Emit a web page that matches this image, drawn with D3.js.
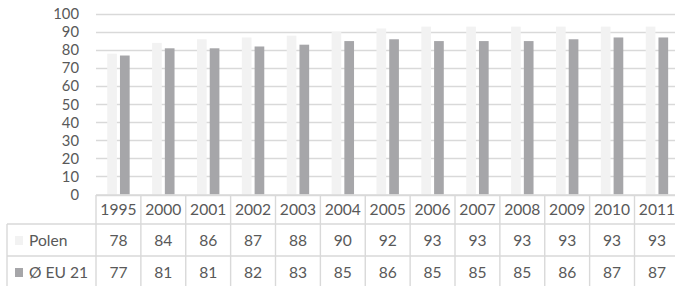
<!DOCTYPE html>
<html>
<head>
<meta charset="utf-8">
<script src="https://cdn.jsdelivr.net/npm/d3@7"></script>
<style>
  html, body { margin: 0; padding: 0; background: #fff; }
  svg { display: block; font-family: Lato, "Open Sans", sans-serif; }
</style>
</head>
<body>
<div id="chart"></div>
<script>
// Daten
const years = ["1995", "2000", "2001", "2002", "2003", "2004", "2005", "2006", "2007", "2008", "2009", "2010", "2011"];
const polen = [78, 84, 86, 87, 88, 90, 92, 93, 93, 93, 93, 93, 93];
const eu21 = [77, 81, 81, 82, 83, 85, 86, 85, 85, 85, 86, 87, 87];
const seriesNames = ["Polen", "Ø EU 21"];
const yTicks = [0, 10, 20, 30, 40, 50, 60, 70, 80, 90, 100];

const width = 675;
const height = 286;
const colors = ["#f2f2f2", "#a6a6a9"];
const gridColor = "#d9d9d9";
const textColor = "#595959";
const fontSize = "15.6px";

const left = 96;
const step = 44.875;
const right = left + step * years.length;
const rowTop = 195;
const rowLines = [195, 224, 256, 288];

const svg = d3.select("#chart")
  .append("svg")
  .attr("width", width)
  .attr("height", height);

const x = d3.scaleBand()
  .domain(years)
  .range([left, right])
  .padding(0);

const groupW = x.bandwidth() * 0.5;
const xInner = d3.scaleBand()
  .domain(seriesNames)
  .range([0, groupW])
  .paddingInner(0.24)
  .paddingOuter(0);

const y = d3.scaleLinear()
  .domain([0, 100])
  .range([194.5, 14]);

// Gitternetz
svg.append("g")
  .selectAll("line")
  .data(yTicks)
  .join("line")
  .attr("x1", left)
  .attr("x2", right)
  .attr("y1", (d) => Math.round(y(d)) + 0.5)
  .attr("y2", (d) => Math.round(y(d)) + 0.5)
  .attr("stroke", gridColor)
  .attr("stroke-width", 1.4);

// Y-Achse
const yAxis = svg.append("g")
  .attr("transform", `translate(${left - 17},0)`)
  .call(d3.axisLeft(y).tickValues(yTicks).tickSize(0).tickPadding(0));
yAxis.select(".domain").remove();
yAxis.selectAll("text")
  .attr("fill", textColor)
  .attr("font-size", "14.8px")
  .attr("font-family", "Lato, sans-serif");

// Balken
const data = [polen, eu21];
const groups = svg.append("g")
  .selectAll("g")
  .data(years)
  .join("g")
  .attr("transform", (d) => `translate(${x(d) + (x.bandwidth() - groupW) / 2},0)`);

groups.selectAll("rect")
  .data((d, i) => seriesNames.map((s, k) => ({ s, v: data[k][i], k })))
  .join("rect")
  .attr("x", (d) => xInner(d.s))
  .attr("width", xInner.bandwidth())
  .attr("y", (d) => y(d.v))
  .attr("height", (d) => y(0) - y(d.v))
  .attr("fill", (d) => colors[d.k]);

// Datentabelle
const table = svg.append("g");

table.selectAll("line.h")
  .data(rowLines)
  .join("line")
  .attr("class", "h")
  .attr("x1", (d, i) => (i === 0 ? left : 7))
  .attr("x2", right)
  .attr("y1", (d) => d)
  .attr("y2", (d) => d)
  .attr("stroke", gridColor)
  .attr("stroke-width", 1.4);

table.selectAll("line.v")
  .data(years.concat(["end"]))
  .join("line")
  .attr("class", "v")
  .attr("x1", (d, i) => left + i * step)
  .attr("x2", (d, i) => left + i * step)
  .attr("y1", rowTop)
  .attr("y2", height)
  .attr("stroke", gridColor)
  .attr("stroke-width", 1.4);

table.append("line")
  .attr("x1", 7).attr("x2", 7)
  .attr("y1", rowLines[1]).attr("y2", height)
  .attr("stroke", gridColor)
  .attr("stroke-width", 1.4);

// Jahreszahlen
table.selectAll("text.year")
  .data(years)
  .join("text")
  .attr("class", "year")
  .attr("x", (d) => x(d) + x.bandwidth() / 2)
  .attr("y", 214.5)
  .attr("text-anchor", "middle")
  .attr("font-size", fontSize)
  .attr("fill", textColor)
  .text((d) => d);

// Werte
const rowBase = [245.5, 277.5];
data.forEach((vals, k) => {
  table.selectAll(`text.val${k}`)
    .data(vals)
    .join("text")
    .attr("class", `val${k}`)
    .attr("x", (d, i) => x(years[i]) + x.bandwidth() / 2)
    .attr("y", rowBase[k])
    .attr("text-anchor", "middle")
    .attr("font-size", fontSize)
    .attr("fill", textColor)
    .text((d) => d);

  // Legende
  table.append("rect")
    .attr("x", 15)
    .attr("y", rowBase[k] - 9.5)
    .attr("width", 8)
    .attr("height", 9)
    .attr("fill", colors[k]);

  table.append("text")
    .attr("x", 29)
    .attr("y", rowBase[k])
    .attr("font-size", fontSize)
    .attr("fill", textColor)
    .text(seriesNames[k]);
});
</script>
</body>
</html>
